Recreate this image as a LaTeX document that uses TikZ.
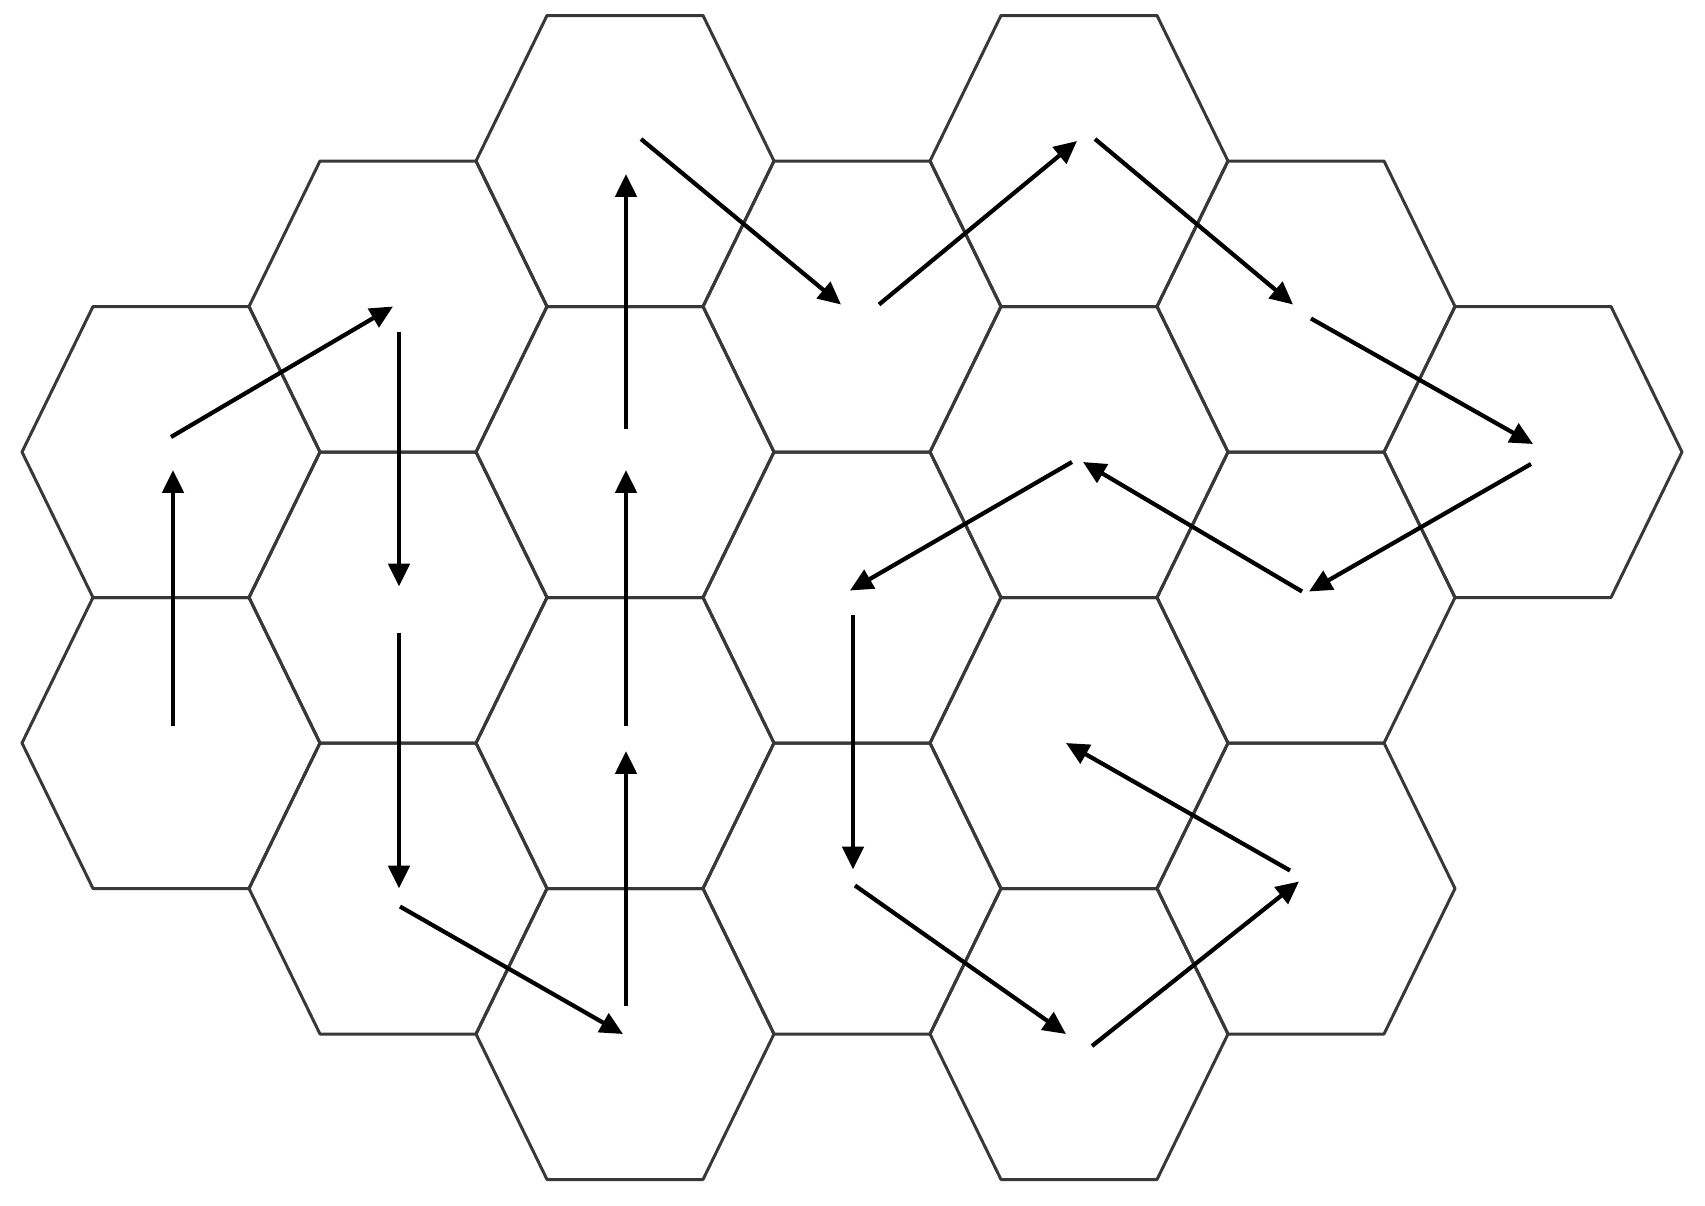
\documentclass[tikz,border=0pt]{standalone}
\usetikzlibrary{arrows.meta}

\tikzset{
    cell/.style={draw=black!78, line width=0.85pt, line join=round},
    walk/.style={-{Triangle[length=6.5pt,width=6pt]}, line width=1.2pt},
}

\begin{document}
\begin{tikzpicture}
    \useasboundingbox (0,0) rectangle (17.05,-12.06);
    % honeycomb: column / level
    \foreach \c/\k in {0/2,0/4,1/1,1/3,1/5,2/0,2/2,2/4,2/6,3/1,3/3,3/5,4/0,4/2,4/4,4/6,5/1,5/3,5/5,6/2} {
        \coordinate (c\c-\k) at ({1.71+2.27*\c}, {-1.61-1.455*\k});
        \draw[cell, shift={(c\c-\k)}] (-1.49,0) -- (-0.78,1.455) -- (0.78,1.455) -- (1.49,0) -- (0.78,-1.455) -- (-0.78,-1.455) -- cycle;
    }
    % path through the cells
    \draw[walk] ([shift={(0.02,0.17)}]c0-4) -- ([shift={(0.02,-0.18)}]c0-2);
    \draw[walk] ([shift={(0,0.15)}]c0-2) -- ([shift={(-0.05,0)}]c1-1);
    \draw[walk] ([shift={(0.01,-0.25)}]c1-1) -- ([shift={(0.01,0.11)}]c1-3);
    \draw[walk] ([shift={(0.01,-0.35)}]c1-3) -- ([shift={(0.01,0)}]c1-5);
    \draw[walk] ([shift={(0.02,-0.18)}]c1-5) -- ([shift={(-0.02,0)}]c2-6);
    \draw[walk] ([shift={(0.01,0.28)}]c2-6) -- ([shift={(0.01,-0.08)}]c2-4);
    \draw[walk] ([shift={(0.01,0.17)}]c2-4) -- ([shift={(0.01,-0.18)}]c2-2);
    \draw[walk] ([shift={(0.01,0.23)}]c2-2) -- ([shift={(0.01,-0.13)}]c2-0);
    \draw[walk] ([shift={(0.16,0.22)}]c2-0) -- ([shift={(-0.11,0.02)}]c3-1);
    \draw[walk] ([shift={(0.27,0.02)}]c3-1) -- ([shift={(-0.02,0.20)}]c4-0);
    \draw[walk] ([shift={(0.16,0.22)}]c4-0) -- ([shift={(-0.13,0.02)}]c5-1);
    \draw[walk] ([shift={(0.05,-0.12)}]c5-1) -- ([shift={(0,0.08)}]c6-2);
    \draw[walk] ([shift={(-0.02,-0.12)}]c6-2) -- ([shift={(0.03,0.06)}]c5-3);
    \draw[walk] ([shift={(-0.04,0.06)}]c5-3) -- ([shift={(0.04,-0.10)}]c4-2);
    \draw[walk] ([shift={(-0.07,-0.10)}]c4-2) -- ([shift={(-0.02,0.07)}]c3-3);
    \draw[walk] ([shift={(0.01,-0.17)}]c3-3) -- ([shift={(0.01,0.19)}]c3-5);
    \draw[walk] ([shift={(0.03,0.03)}]c3-5) -- ([shift={(-0.13,0)}]c4-6);
    \draw[walk] ([shift={(0.13,-0.12)}]c4-6) -- ([shift={(-0.07,0.07)}]c5-5);
    \draw[walk] ([shift={(-0.16,0.18)}]c5-5) -- ([shift={(-0.13,0)}]c4-4);
\end{tikzpicture}
\end{document}
